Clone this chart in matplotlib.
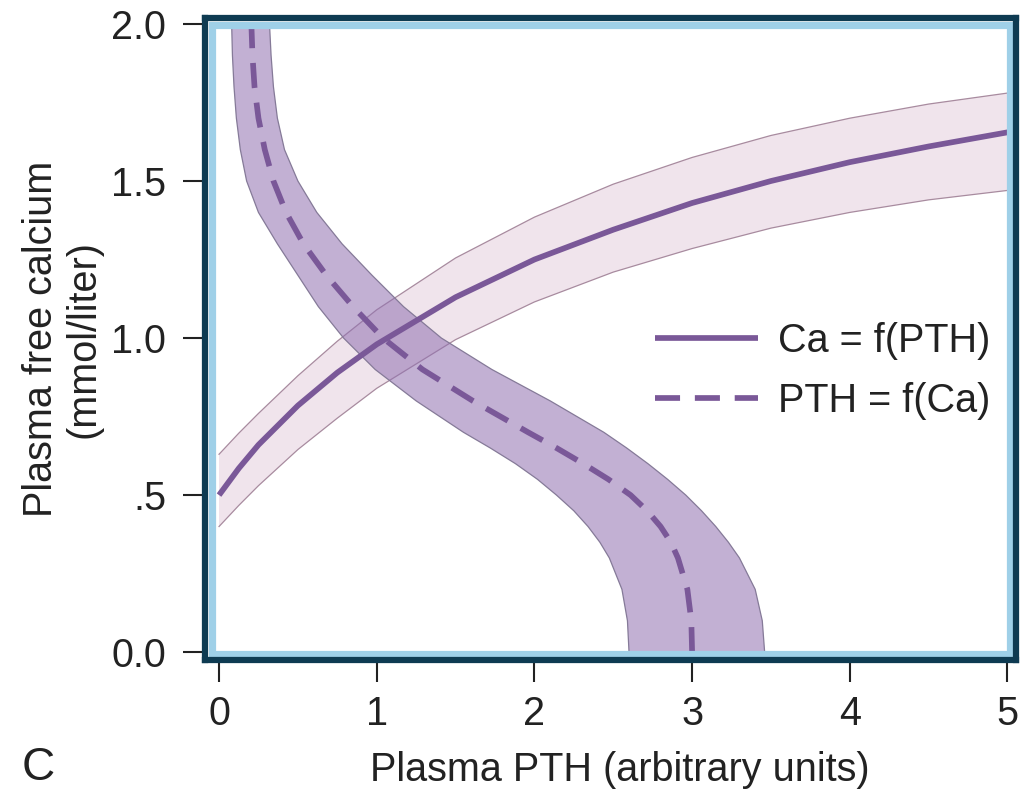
#!/usr/bin/env python3
"""Ca / PTH feedback curves: Ca = f(PTH) and PTH = f(Ca) with their bands."""

import matplotlib

matplotlib.use("Agg")
import matplotlib.pyplot as plt
from matplotlib.lines import Line2D
from matplotlib.patches import Rectangle

plt.rcParams["font.family"] = ["Liberation Sans", "DejaVu Sans"]

# ---------------------------------------------------------------------------
# Data
# ---------------------------------------------------------------------------

# Ca = f(PTH): calcium as a function of PTH
pth_points = [0.0, 0.125, 0.25, 0.5, 0.75, 1.0, 1.5, 2.0, 2.5, 3.0, 3.5, 4.0, 4.5, 5.0]
ca_mid = [0.50, 0.585, 0.66, 0.785, 0.89, 0.98, 1.13, 1.25, 1.345, 1.43, 1.50,
          1.56, 1.61, 1.655]
ca_high = [0.63, 0.697, 0.76, 0.88, 0.99, 1.09, 1.255, 1.385, 1.49, 1.575, 1.645,
           1.70, 1.745, 1.78]
ca_low = [0.40, 0.467, 0.53, 0.645, 0.745, 0.84, 0.995, 1.115, 1.21, 1.285, 1.35,
          1.40, 1.44, 1.47]

# PTH = f(Ca): PTH as a function of calcium
ca_points = [0.0, 0.1, 0.2, 0.3, 0.35, 0.4, 0.45, 0.5, 0.55, 0.6, 0.65, 0.7,
             0.8, 0.9, 1.0, 1.1, 1.2, 1.3, 1.4, 1.5, 1.6, 1.7, 1.8, 1.9, 2.0]
pth_mid = [3.00, 2.995, 2.97, 2.91, 2.865, 2.80, 2.715, 2.61, 2.47, 2.31, 2.14,
           1.96, 1.61, 1.29, 1.04, 0.85, 0.68, 0.535, 0.425, 0.345, 0.29, 0.25,
           0.225, 0.212, 0.205]
pth_high = [3.46, 3.445, 3.40, 3.30, 3.23, 3.15, 3.06, 2.96, 2.845, 2.72, 2.585,
            2.44, 2.10, 1.73, 1.41, 1.17, 0.97, 0.78, 0.62, 0.50, 0.415, 0.37,
            0.345, 0.33, 0.32]
pth_low = [2.60, 2.59, 2.555, 2.475, 2.415, 2.34, 2.25, 2.14, 2.02, 1.88, 1.72,
           1.55, 1.25, 0.99, 0.79, 0.63, 0.50, 0.37, 0.25, 0.175, 0.135, 0.11,
           0.095, 0.085, 0.08]

x_ticks = [0, 1, 2, 3, 4, 5]
y_ticks = [0.0, 0.5, 1.0, 1.5, 2.0]
y_tick_labels = ["0.0", ".5", "1.0", "1.5", "2.0"]

LINE_COLOR = "#7a5898"
DARK_FRAME = "#0e3b52"
LIGHT_FRAME = "#9fd0e8"
TEXT_COLOR = "#222222"
FONT_SIZE = 28.5
LINE_WIDTH = 4.1
DASHES = (0, (4.4, 2.6))

# ---------------------------------------------------------------------------
# Figure
# ---------------------------------------------------------------------------

fig = plt.figure(figsize=(10.3, 7.91), dpi=100)
ax = fig.add_axes([205 / 1030, 1 - 660 / 791, 811 / 1030, 642 / 791])

ax.fill_between(pth_points, ca_low, ca_high, facecolor="#f0e4ec",
                edgecolor="none", zorder=1)
ax.plot(pth_points, ca_high, color="#a88b9f", lw=0.9, zorder=1.5)
ax.plot(pth_points, ca_low, color="#a88b9f", lw=0.9, zorder=1.5)

ax.fill_betweenx(ca_points, pth_low, pth_high, facecolor="#9070b0",
                 alpha=0.55, edgecolor="none", zorder=2)
ax.plot(pth_low, ca_points, color="#857a98", lw=0.9, zorder=2.5)
ax.plot(pth_high, ca_points, color="#857a98", lw=0.9, zorder=2.5)

ax.plot(pth_points, ca_mid, color=LINE_COLOR, lw=LINE_WIDTH, zorder=3,
        solid_capstyle="butt", solid_joinstyle="round")
ax.plot(pth_mid, ca_points, color=LINE_COLOR, lw=LINE_WIDTH, zorder=3,
        linestyle=DASHES, dash_capstyle="butt", dash_joinstyle="round")

ax.set_xlim(-0.089, 5.054)
ax.set_ylim(-0.025, 2.019)

for spine in ax.spines.values():
    spine.set_color(DARK_FRAME)
    spine.set_linewidth(4.5)
    spine.set_zorder(6)

# light blue inner band of the frame
ax.add_patch(Rectangle((6.5 / 811, 6.5 / 642), 1 - 13 / 811, 1 - 13 / 642,
                       transform=ax.transAxes, facecolor="none",
                       edgecolor=LIGHT_FRAME, lw=5.2, zorder=5, clip_on=False))

ax.set_xticks(x_ticks)
ax.set_yticks(y_ticks)
ax.set_yticklabels(y_tick_labels)
ax.tick_params(axis="both", direction="out", length=16, width=1.5,
               color=TEXT_COLOR, labelsize=FONT_SIZE, labelcolor=TEXT_COLOR)
ax.tick_params(axis="x", pad=9)
ax.tick_params(axis="y", pad=12)

handles = [
    Line2D([], [], color=LINE_COLOR, lw=LINE_WIDTH, solid_capstyle="butt"),
    Line2D([], [], color=LINE_COLOR, lw=LINE_WIDTH, linestyle=DASHES,
           dash_capstyle="butt"),
]
ax.legend(handles, ["Ca = f(PTH)", "PTH = f(Ca)"], loc="center left",
          bbox_to_anchor=(0.555, 0.45), frameon=False, fontsize=FONT_SIZE,
          handlelength=2.6, handletextpad=0.5, labelspacing=0.55,
          borderpad=0, borderaxespad=0, labelcolor=TEXT_COLOR)

fig.text(620 / 1030, 1 - 770 / 791, "Plasma PTH (arbitrary units)",
         ha="center", va="center", fontsize=FONT_SIZE, color=TEXT_COLOR)
fig.text(62 / 1030, 1 - 339 / 791, "Plasma free calcium\n(mmol/liter)",
         ha="center", va="center", rotation=90, fontsize=FONT_SIZE,
         linespacing=1.15, multialignment="center", color=TEXT_COLOR)
fig.text(22 / 1030, 1 - 768 / 791, "C", ha="left", va="center",
         fontsize=33, color=TEXT_COLOR)

fig.savefig("out.png", dpi=100)
